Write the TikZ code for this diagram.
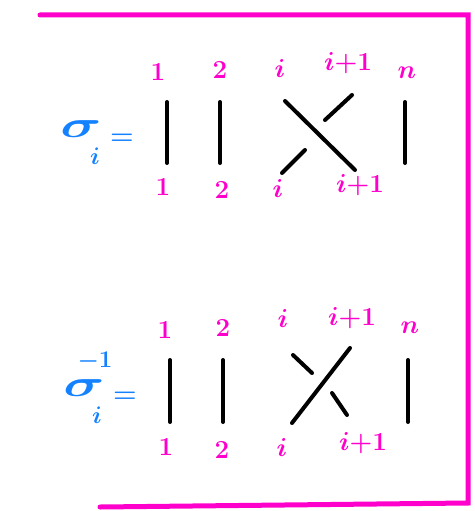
\RequirePackage{fix-cm}
\documentclass[tikz,border=0pt]{standalone}
\usepackage{amsmath,amssymb}
\usepackage{graphicx}
\usepackage{xcolor}
\definecolor{hotpink}{RGB}{255,0,204}
\definecolor{penblue}{RGB}{20,130,255}

\begin{document}
\begin{tikzpicture}[x=1pt,y=-1pt,
  strand/.style={line width=4pt,line cap=round},
  lab/.style={text=hotpink,font=\fontsize{26}{28}\selectfont\bfseries\boldmath,inner sep=0pt},
  sig/.style={text=penblue,inner sep=0pt},
  frame/.style={draw=hotpink,line width=5pt,line cap=round,line join=miter}]
\useasboundingbox (0,0) rectangle (474,511);
% frame
\coordinate (f1) at (40,15);
\coordinate (f2) at (468,15);
\coordinate (f3) at (468,503);
\coordinate (f4) at (100,507);
\draw[frame] (f1) -- (f2) -- (f3) -- (f4);

% sigma_i
\node[sig,font=\fontsize{38}{40}\selectfont\boldmath] (s1) at (81,129) {\scalebox{1.5}[1]{$\sigma$}};
\node[sig,font=\fontsize{24}{26}\selectfont\boldmath] (s1i) at (95,156) {$i$};
\node[sig,font=\fontsize{27}{29}\selectfont\boldmath] (e1) at (122,139) {$=$};
\coordinate (a1) at (167,102); \coordinate (a1') at (167,163);
\coordinate (a2) at (220,102); \coordinate (a2') at (220,163);
\coordinate (an) at (405,102); \coordinate (an') at (405,163);
\coordinate (ai) at (285,101); \coordinate (ai') at (355,170);
\coordinate (aj) at (352,95);  \coordinate (aj1) at (325,120);
\coordinate (aj2) at (305,150); \coordinate (aj') at (282,173);
\draw[strand] (a1) -- (a1');
\draw[strand] (a2) -- (a2');
\draw[strand] (an) -- (an');
\draw[strand] (ai) -- (ai');
\draw[strand] (aj) -- (aj1);
\draw[strand] (aj2) -- (aj');
\node[lab] (l1) at (158,72) {1};
\node[lab] (l2) at (220,70) {2};
\node[lab] (li) at (280,68) {$i$};
\node[lab] (lj) at (348,63) {$i{+}1$};
\node[lab] (ln) at (407,73) {$n$};
\node[lab] (m1) at (163,187) {1};
\node[lab] (m2) at (222,190) {2};
\node[lab] (mi) at (278,188) {$i$};
\node[lab] (mj) at (360,185) {$i{+}1$};

% sigma_i^{-1}
\node[sig,font=\fontsize{38}{40}\selectfont\boldmath] (s2) at (84,388) {\scalebox{1.5}[1]{$\sigma$}};
\node[sig,font=\fontsize{24}{26}\selectfont\boldmath] (s2i) at (97,415) {$i$};
\node[sig,font=\fontsize{24}{26}\selectfont\boldmath] (s2e) at (95,361) {$-1$};
\node[sig,font=\fontsize{27}{29}\selectfont\boldmath] (e2) at (125,397) {$=$};
\coordinate (b1) at (170,360); \coordinate (b1') at (170,422);
\coordinate (b2) at (223,360); \coordinate (b2') at (223,422);
\coordinate (bn) at (408,360); \coordinate (bn') at (408,422);
\coordinate (bj) at (350,348); \coordinate (bj') at (292,423);
\coordinate (bi) at (293,355); \coordinate (bi1) at (312,373);
\coordinate (bi2) at (332,393); \coordinate (bi') at (347,415);
\draw[strand] (b1) -- (b1');
\draw[strand] (b2) -- (b2');
\draw[strand] (bn) -- (bn');
\draw[strand] (bj) -- (bj');
\draw[strand] (bi) -- (bi1);
\draw[strand] (bi2) -- (bi');
\node[lab] (k1) at (165,330) {1};
\node[lab] (k2) at (223,328) {2};
\node[lab] (ki) at (283,318) {$i$};
\node[lab] (kj) at (352,318) {$i{+}1$};
\node[lab] (kn) at (410,328) {$n$};
\node[lab] (p1) at (166,447) {1};
\node[lab] (p2) at (222,450) {2};
\node[lab] (pi) at (282,447) {$i$};
\node[lab] (pj) at (363,443) {$i{+}1$};
\end{tikzpicture}
\end{document}
